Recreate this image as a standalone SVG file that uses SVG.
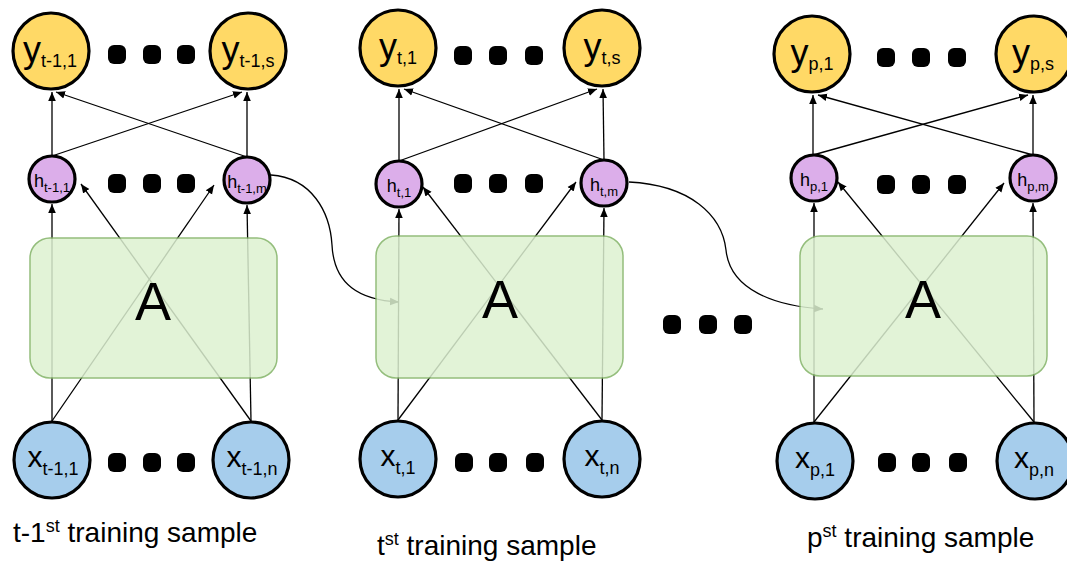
<svg xmlns="http://www.w3.org/2000/svg" width="1067" height="562" viewBox="0 0 1067 562">
<defs>
<marker id="ah" markerWidth="10" markerHeight="10" refX="9" refY="5" orient="auto" markerUnits="userSpaceOnUse"><path d="M0,1.2 L9,5 L0,8.8 z" fill="#000"/></marker>
<style>
.c{fill:none;stroke:#000;stroke-width:1.3;marker-end:url(#ah)}
.yn{fill:#ffd966;stroke:#000;stroke-width:3.2}
.hn{fill:#dcaeea;stroke:#000;stroke-width:3.2}
.xn{fill:#a6cdec;stroke:#000;stroke-width:3.2}
.box{fill:#ddf1d1;stroke:#82b366;stroke-width:1.5;opacity:0.85}
.d{fill:#000}
text{font-family:"Liberation Sans",Arial,sans-serif;fill:#000}
.ty{font-size:36px;text-anchor:middle}
.tx{font-size:30px;text-anchor:middle}
.th{font-size:18px;text-anchor:middle}
.ta{font-size:54px;text-anchor:middle}
.lbl{font-size:28px}
</style>
</defs>
<rect width="1067" height="562" fill="#fff"/>
<g id="connectors">
<line class="c" x1="52" y1="156" x2="52" y2="92"/>
<line class="c" x1="52" y1="156" x2="242" y2="92"/>
<line class="c" x1="247" y1="157" x2="247" y2="92"/>
<line class="c" x1="247" y1="157" x2="56" y2="92"/>
<line class="c" x1="52" y1="421" x2="52" y2="204"/>
<line class="c" x1="251" y1="421" x2="247" y2="205"/>
<line class="c" x1="52" y1="421" x2="214" y2="185"/>
<line class="c" x1="251" y1="421" x2="81" y2="184"/>
<path class="c" d="M271,175 C312,178 330,212 332,245 C334,285 360,300 399,302"/>
<line class="c" x1="399" y1="161" x2="399" y2="89"/>
<line class="c" x1="399" y1="161" x2="597" y2="89"/>
<line class="c" x1="604" y1="160" x2="603" y2="89"/>
<line class="c" x1="604" y1="160" x2="404" y2="89"/>
<line class="c" x1="398" y1="420" x2="399" y2="209"/>
<line class="c" x1="602" y1="420" x2="604" y2="208"/>
<line class="c" x1="398" y1="420" x2="576" y2="182"/>
<line class="c" x1="602" y1="420" x2="423" y2="187"/>
<path class="c" d="M629,182 C690,185 722,215 726,250 C730,290 775,306 823,309"/>
<line class="c" x1="813" y1="155" x2="813" y2="95"/>
<line class="c" x1="813" y1="155" x2="1028" y2="95"/>
<line class="c" x1="1033" y1="155" x2="1033" y2="95"/>
<line class="c" x1="1033" y1="155" x2="818" y2="95"/>
<line class="c" x1="814" y1="422" x2="814" y2="203"/>
<line class="c" x1="1034" y1="422" x2="1033" y2="203"/>
<line class="c" x1="814" y1="422" x2="1004" y2="183"/>
<line class="c" x1="1034" y1="422" x2="838" y2="182"/>
</g>
<g id="A_t-1"><rect class="box" x="30" y="238" width="247" height="140" rx="20"/><text class="ta" x="153" y="320">A</text></g>
<g id="A_t"><rect class="box" x="376" y="236" width="247" height="142" rx="20"/><text class="ta" x="500" y="318">A</text></g>
<g id="A_p"><rect class="box" x="800" y="236" width="247" height="140" rx="20"/><text class="ta" x="923" y="318">A</text></g>
<g id="y_t-1_1"><circle class="yn" cx="51" cy="51" r="38"/><text class="ty" x="50" y="62">y<tspan font-size="18" dy="5">t-1,1</tspan></text></g>
<g id="y_t-1_s"><circle class="yn" cx="248" cy="51" r="38"/><text class="ty" x="248" y="62">y<tspan font-size="18" dy="5">t-1,s</tspan></text></g>
<g id="h_t-1_1"><circle class="hn" cx="52" cy="179" r="23"/><text class="th" x="52" y="187">h<tspan font-size="13" dy="5">t-1,1</tspan></text></g>
<g id="h_t-1_m"><circle class="hn" cx="247" cy="180" r="23"/><text class="th" x="247" y="188">h<tspan font-size="13" dy="5">t-1,m</tspan></text></g>
<g id="x_t-1_1"><circle class="xn" cx="52" cy="460" r="38"/><text class="tx" x="53" y="467">x<tspan font-size="18" dy="8">t-1,1</tspan></text></g>
<g id="x_t-1_n"><circle class="xn" cx="251" cy="460" r="38"/><text class="tx" x="252" y="467">x<tspan font-size="18" dy="8">t-1,n</tspan></text></g>
<g id="dots_t-1">
<rect class="d" x="108" y="45" width="18" height="19" rx="6"/><rect class="d" x="143" y="45" width="18" height="19" rx="6"/><rect class="d" x="177" y="45" width="18" height="19" rx="6"/>
<rect class="d" x="108" y="174" width="18" height="19" rx="6"/><rect class="d" x="143" y="174" width="18" height="19" rx="6"/><rect class="d" x="177" y="174" width="18" height="19" rx="6"/>
<rect class="d" x="108" y="453" width="18" height="19" rx="6"/><rect class="d" x="143" y="453" width="18" height="19" rx="6"/><rect class="d" x="177" y="453" width="18" height="19" rx="6"/>
</g>
<g id="y_t_1"><circle class="yn" cx="398" cy="48" r="38"/><text class="ty" x="398" y="59">y<tspan font-size="18" dy="5">t,1</tspan></text></g>
<g id="y_t_s"><circle class="yn" cx="602" cy="48" r="38"/><text class="ty" x="602" y="59">y<tspan font-size="18" dy="5">t,s</tspan></text></g>
<g id="h_t_1"><circle class="hn" cx="399" cy="184" r="23"/><text class="th" x="399" y="192">h<tspan font-size="13" dy="5">t,1</tspan></text></g>
<g id="h_t_m"><circle class="hn" cx="604" cy="183" r="23"/><text class="th" x="604" y="191">h<tspan font-size="13" dy="5">t,m</tspan></text></g>
<g id="x_t_1"><circle class="xn" cx="398" cy="459" r="38"/><text class="tx" x="398" y="466">x<tspan font-size="18" dy="8">t,1</tspan></text></g>
<g id="x_t_n"><circle class="xn" cx="602" cy="459" r="38"/><text class="tx" x="602" y="466">x<tspan font-size="18" dy="8">t,n</tspan></text></g>
<g id="dots_t">
<rect class="d" x="454" y="46" width="18" height="19" rx="6"/><rect class="d" x="489" y="46" width="18" height="19" rx="6"/><rect class="d" x="525" y="46" width="18" height="19" rx="6"/>
<rect class="d" x="454" y="174" width="18" height="19" rx="6"/><rect class="d" x="489" y="174" width="18" height="19" rx="6"/><rect class="d" x="525" y="174" width="18" height="19" rx="6"/>
<rect class="d" x="455" y="453" width="18" height="19" rx="6"/><rect class="d" x="489" y="453" width="18" height="19" rx="6"/><rect class="d" x="526" y="453" width="18" height="19" rx="6"/>
</g>
<g id="dots_mid">
<rect class="d" x="663" y="315" width="18" height="19" rx="6"/><rect class="d" x="699" y="315" width="18" height="19" rx="6"/><rect class="d" x="734" y="315" width="18" height="19" rx="6"/>
</g>
<g id="y_p_1"><circle class="yn" cx="812" cy="54" r="38"/><text class="ty" x="812" y="65">y<tspan font-size="18" dy="5">p,1</tspan></text></g>
<g id="y_p_s"><circle class="yn" cx="1034" cy="54" r="38"/><text class="ty" x="1033" y="65">y<tspan font-size="18" dy="5">p,s</tspan></text></g>
<g id="h_p_1"><circle class="hn" cx="814" cy="178" r="23"/><text class="th" x="814" y="186">h<tspan font-size="13" dy="5">p,1</tspan></text></g>
<g id="h_p_m"><circle class="hn" cx="1033" cy="178" r="23"/><text class="th" x="1033" y="186">h<tspan font-size="13" dy="5">p,m</tspan></text></g>
<g id="x_p_1"><circle class="xn" cx="815" cy="461" r="38"/><text class="tx" x="815" y="468">x<tspan font-size="18" dy="8">p,1</tspan></text></g>
<g id="x_p_n"><circle class="xn" cx="1035" cy="461" r="38"/><text class="tx" x="1034" y="468">x<tspan font-size="18" dy="8">p,n</tspan></text></g>
<g id="dots_p">
<rect class="d" x="877" y="48" width="18" height="19" rx="6"/><rect class="d" x="912" y="48" width="18" height="19" rx="6"/><rect class="d" x="948" y="48" width="18" height="19" rx="6"/>
<rect class="d" x="877" y="175" width="18" height="19" rx="6"/><rect class="d" x="912" y="175" width="18" height="19" rx="6"/><rect class="d" x="948" y="175" width="18" height="19" rx="6"/>
<rect class="d" x="878" y="453" width="18" height="19" rx="6"/><rect class="d" x="912" y="453" width="18" height="19" rx="6"/><rect class="d" x="949" y="453" width="18" height="19" rx="6"/>
</g>
<g id="label_t-1"><text class="lbl" x="13" y="542">t-1<tspan font-size="18" dy="-10">st</tspan><tspan dy="10"> training sample</tspan></text></g>
<g id="label_t"><text class="lbl" x="377" y="555">t<tspan font-size="18" dy="-10">st</tspan><tspan dy="10"> training sample</tspan></text></g>
<g id="label_p"><text class="lbl" x="807" y="547">p<tspan font-size="18" dy="-10">st</tspan><tspan dy="10"> training sample</tspan></text></g>
</svg>
